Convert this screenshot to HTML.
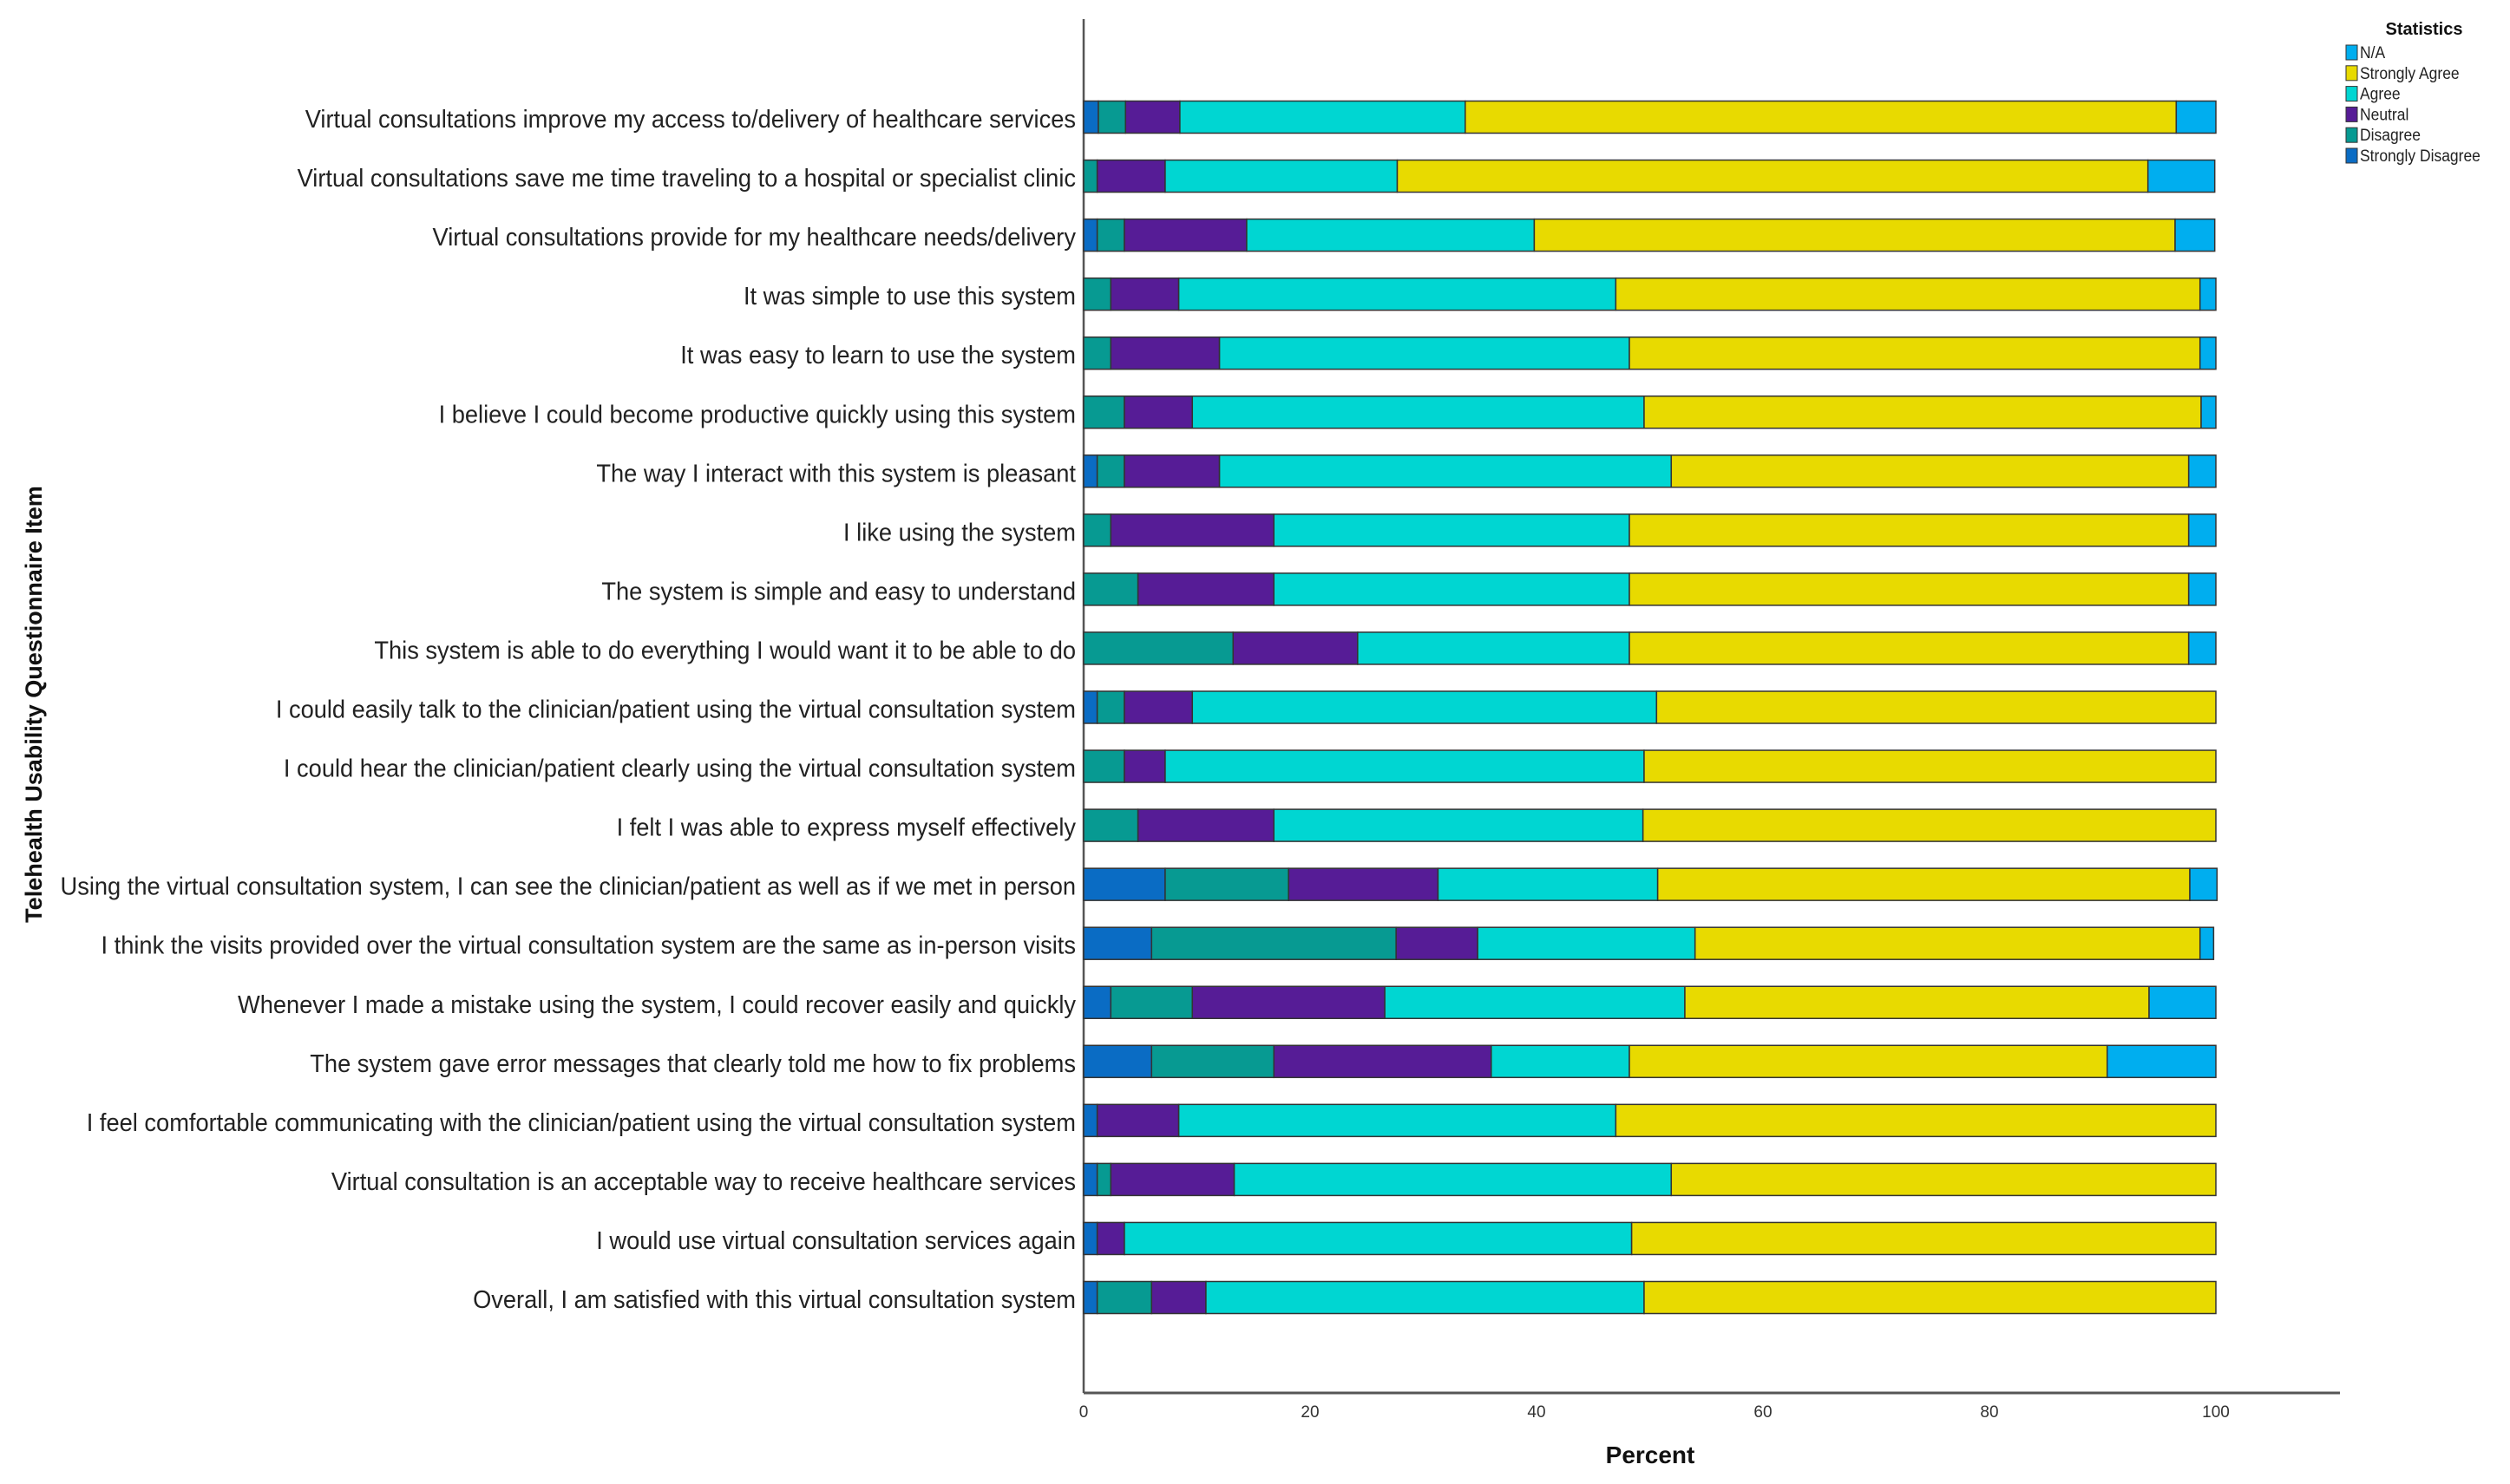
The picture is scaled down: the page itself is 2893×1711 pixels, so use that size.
<!DOCTYPE html>
<html><head><meta charset="utf-8"><style>
html,body{margin:0;padding:0;background:#fff;}
svg{display:block;font-family:"Liberation Sans",sans-serif;}
</style></head><body>
<svg id="chart" width="2893" height="1711" viewBox="0 0 2893 1711">
<g id="plot"></g>
</svg>
<script>
const categories = [
"Virtual consultations improve my access to/delivery of healthcare services",
"Virtual consultations save me time traveling to a hospital or specialist clinic",
"Virtual consultations provide for my healthcare needs/delivery",
"It was simple to use this system",
"It was easy to learn to use the system",
"I believe I could become productive quickly using this system",
"The way I interact with this system is pleasant",
"I like using the system",
"The system is simple and easy to understand",
"This system is able to do everything I would want it to be able to do",
"I could easily talk to the clinician/patient using the virtual consultation system",
"I could hear the clinician/patient clearly using the virtual consultation system",
"I felt I was able to express myself effectively",
"Using the virtual consultation system, I can see the clinician/patient as well as if we met in person",
"I think the visits provided over the virtual consultation system are the same as in-person visits",
"Whenever I made a mistake using the system, I could recover easily and quickly",
"The system gave error messages that clearly told me how to fix problems",
"I feel comfortable communicating with the clinician/patient using the virtual consultation system",
"Virtual consultation is an acceptable way to receive healthcare services",
"I would use virtual consultation services again",
"Overall, I am satisfied with this virtual consultation system"
];
const stronglyDisagree = [1.3,0,1.2,0,0,0,1.2,0,0,0,1.2,0,0,7.2,6,2.4,6,1.2,1.2,1.2,1.2];
const disagree        = [2.4,1.2,2.4,2.4,2.4,3.6,2.4,2.4,4.8,13.2,2.4,3.6,4.8,10.9,21.6,7.2,10.8,0,1.2,0,4.8];
const neutral         = [4.8,6,10.8,6,9.6,6,8.4,14.4,12,11,6,3.6,12,13.2,7.2,17,19.2,7.2,10.9,2.4,4.8];
const agree           = [25.2,20.5,25.4,38.6,36.2,39.9,39.9,31.4,31.4,24,41,42.3,32.6,19.4,19.2,26.5,12.2,38.6,38.6,44.8,38.7];
const stronglyAgree   = [62.8,66.3,56.6,51.6,50.4,49.2,45.7,49.4,49.4,49.4,49.4,50.5,50.6,47,44.6,41,42.2,53,48.1,51.6,50.5];
const notApplicable   = [3.5,5.9,3.5,1.4,1.4,1.3,2.4,2.4,2.4,2.4,0,0,0,2.4,1.2,5.9,9.6,0,0,0,0];
const xTicks = [0,20,40,60,80,100];
const seriesNames = ["Strongly Disagree","Disagree","Neutral","Agree","Strongly Agree","N/A"];

const NS="http://www.w3.org/2000/svg";
const svg=document.getElementById('chart');
const X0=1249, X100=2554, Y0=135, STEP=68.05, BH=37;
const xScale=v=>X0+(X100-X0)*v/100;
const yScale=i=>Y0+STEP*i;
const colors=["#0a6cc4","#079a92","#561c96","#00d6d2","#e8da00","#00aeef"];
const series=[stronglyDisagree,disagree,neutral,agree,stronglyAgree,notApplicable];
function mk(tag,attrs,parent){const e=document.createElementNS(NS,tag);for(const k in attrs)e.setAttribute(k,attrs[k]);(parent||svg).appendChild(e);return e;}

const ya=mk('line',{x1:X0,y1:22,x2:X0,y2:1606,stroke:"#555","stroke-width":2.5});


const xa=mk('line',{x1:X0,y1:1606,x2:2697,y2:1606,stroke:"#555","stroke-width":3});



xTicks.forEach(t=>{
  const tx=mk('text',{x:xScale(t),y:1634,"font-size":19,"text-anchor":"middle",fill:"#333"});
  tx.textContent=t;
  
  
});

categories.forEach((c,i)=>{
  const cy=yScale(i);
  const lab=mk('text',{transform:`translate(1240,${cy+12}) scale(0.94,1)`,"font-size":29,"text-anchor":"end",fill:"#222"});
  lab.textContent=c;
  
  
  let cum=0;
  series.forEach((s,k)=>{
    const v=s[i];
    if(v>0){
      const r=mk('rect',{x:xScale(cum),y:cy-BH/2,width:xScale(cum+v)-xScale(cum),height:BH,fill:colors[k],stroke:"#333","stroke-width":1.5});
      
      
    }
    cum+=v;
  });
});

const xt=mk('text',{x:1902,y:1687,"font-size":28,"font-weight":"bold","text-anchor":"middle",fill:"#111"});
xt.textContent="Percent";


const yt=mk('text',{transform:"translate(48,812) rotate(-90)","font-size":27,"font-weight":"bold","text-anchor":"middle",fill:"#111"});
yt.textContent="Telehealth Usability Questionnaire Item";



const lt=mk('text',{x:2794,y:40,"font-size":20,"font-weight":"bold","text-anchor":"middle",fill:"#111"});
lt.textContent="Statistics";


const legOrder=[5,4,3,2,1,0];
legOrder.forEach((k,j)=>{
  const y=52+j*23.8;
  const sw=mk('rect',{x:2704,y:y,width:13,height:17,fill:colors[k],stroke:"#333","stroke-width":1});
  
  
  const t=mk('text',{transform:`translate(2720,${y+15}) scale(0.92,1)`,"font-size":19,fill:"#222"});
  t.textContent=seriesNames[k];
  
  
});
</script>
</body></html>
